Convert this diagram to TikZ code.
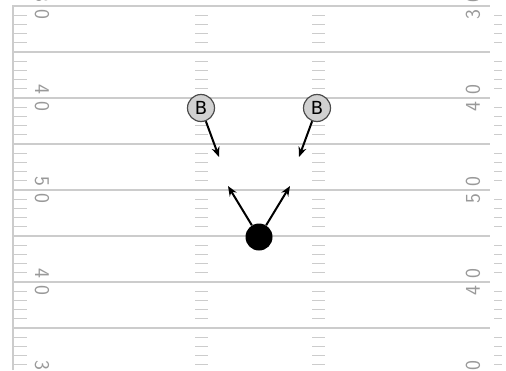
\documentclass[tikz,border=0pt]{standalone}
\usepackage{fontspec}
\newfontfamily\playerfont{DejaVu Sans}
\usepackage{tikz}
\usetikzlibrary{arrows.meta}

\definecolor{fieldline}{gray}{0.8}
\definecolor{numgray}{gray}{0.6}

\tikzset{
  player/.style={circle, draw=black!70, fill=black!18, line width=1.2pt,
    minimum size=27pt, inner sep=0pt, font=\playerfont\fontsize{18}{18}\selectfont},
  ball/.style={circle, fill=black, minimum size=27pt, inner sep=0pt},
  yardnum/.style={text=numgray, inner sep=0pt,
    font=\sffamily\fontsize{21}{21}\selectfont},
  route/.style={->, line width=2pt}
}

\begin{document}
\begin{tikzpicture}[>={Stealth[length=10pt,width=8pt]}, x=1pt, y=-1pt]
  \useasboundingbox (0,0) rectangle (506,370);

  % Sideline and top line
  \draw[fieldline, line width=1.3pt] (13,370) -- (13,6) -- (490,6);

  % Yard lines, every 5 yards
  \foreach \y in {52,98,...,328}
    \draw[fieldline, line width=1.3pt] (13,\y) -- (490,\y);

  % Hash marks between the lines
  \foreach \y in {6,52,...,328} {
    \foreach \k in {1,...,4} {
      \pgfmathsetmacro\hy{\y+9.2*\k}
      \draw[fieldline, line width=1pt] (13,\hy) -- (27,\hy);
      \draw[fieldline, line width=1pt] (195,\hy) -- (208,\hy);
      \draw[fieldline, line width=1pt] (312,\hy) -- (325,\hy);
      \draw[fieldline, line width=1pt] (494,\hy) -- (502,\hy);
    }
  }

  % Yard numbers
  \foreach \y/\n in {6/3, 98/4, 190/5, 282/4, 374/3} {
    \node[yardnum, rotate=-90] (numL\y) at (42,\y) {\n\hspace{7.5pt}0};
    \node[yardnum, rotate=90] (numR\y) at (473,\y) {\n\hspace{7.5pt}0};
  }

  % Backs and ball
  \node[player] (backL) at (201,108) {B};
  \node[player] (backR) at (317,108) {B};
  \node[ball] (qb) at (259,237) {};

  % Route ends
  \coordinate (backLend) at (219,157);
  \coordinate (backRend) at (299,157);
  \coordinate (qbL) at (228,186);
  \coordinate (qbR) at (290,186);

  % Routes
  \draw[route] (backL) -- (backLend);
  \draw[route] (backR) -- (backRend);
  \draw[route] (qb) -- (qbL);
  \draw[route] (qb) -- (qbR);
\end{tikzpicture}
\end{document}
